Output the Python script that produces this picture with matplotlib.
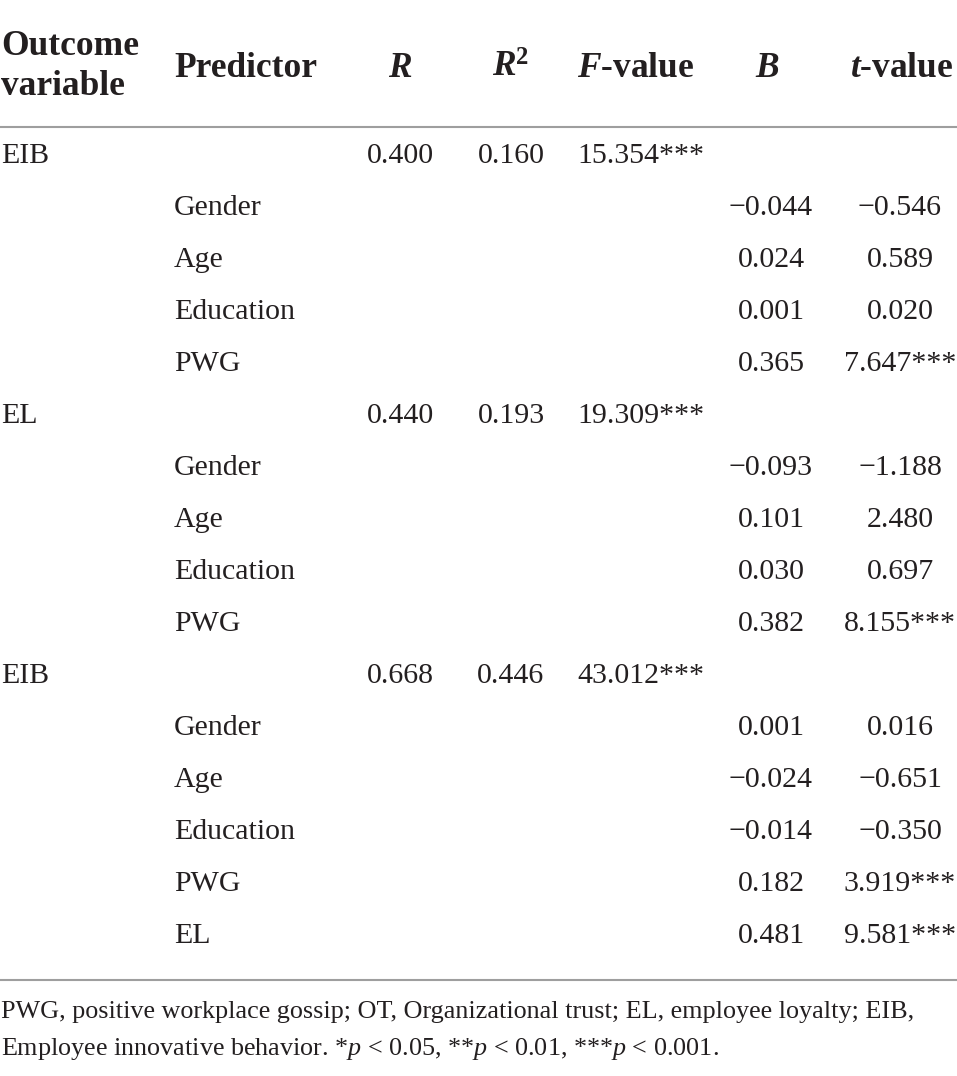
import matplotlib
matplotlib.use("Agg")
import matplotlib.pyplot as plt

# ---------------- data ----------------
outcomes = ["EIB", "EL", "EIB"]
R_vals = [0.400, 0.440, 0.668]
R2_vals = [0.160, 0.193, 0.446]
F_vals = [15.354, 19.309, 43.012]
F_sig = ["***", "***", "***"]

predictors = [
    ["Gender", "Age", "Education", "PWG"],
    ["Gender", "Age", "Education", "PWG"],
    ["Gender", "Age", "Education", "PWG", "EL"],
]
B_vals = [
    [-0.044, 0.024, 0.001, 0.365],
    [-0.093, 0.101, 0.030, 0.382],
    [0.001, -0.024, -0.014, 0.182, 0.481],
]
t_vals = [
    [-0.546, 0.589, 0.020, 7.647],
    [-1.188, 2.480, 0.697, 8.155],
    [0.016, -0.651, -0.350, 3.919, 9.581],
]
t_sig = [
    ["", "", "", "***"],
    ["", "", "", "***"],
    ["", "", "", "***", "***"],
]

footnote_lines = [
    "PWG, positive workplace gossip; OT, Organizational trust; EL, employee loyalty; EIB,",
    r"Employee innovative behavior. *$p$ < 0.05, **$p$ < 0.01, ***$p$ < 0.001.",
]

# ---------------- style ----------------
FONT = "Liberation Serif"
plt.rcParams["font.family"] = [FONT, "DejaVu Serif"]
plt.rcParams["mathtext.fontset"] = "custom"
plt.rcParams["mathtext.rm"] = FONT
plt.rcParams["mathtext.it"] = FONT + ":italic"
plt.rcParams["mathtext.bf"] = FONT + ":bold"
plt.rcParams["mathtext.bfit"] = FONT + ":bold:italic"

TXT = "#231f20"
LINE = "#9e9e9e"
BODY = 21.5
HEAD = 25.5
FOOT = 18.8

W, H = 957, 1076
fig = plt.figure(figsize=(W / 100, H / 100), dpi=100)
ax = fig.add_axes([0, 0, 1, 1])
ax.set_xlim(0, W)
ax.set_ylim(H, 0)
ax.axis("off")

# column anchors
x_out = 1
x_pred = 174
x_R = 400
x_R2 = 511
x_F = 577
x_B = 771
x_t = 900


def fmt(v):
    return f"{v:.3f}".replace("-", "\u2212")


# ---------------- header ----------------
hb = 77
ax.text(x_out, 55, "Outcome", fontsize=HEAD, fontweight="bold", color=TXT,
        ha="left", va="baseline")
ax.text(x_out, 95, "variable", fontsize=HEAD, fontweight="bold", color=TXT,
        ha="left", va="baseline")
ax.text(x_pred, hb, "Predictor", fontsize=HEAD, fontweight="bold", color=TXT,
        ha="left", va="baseline")
ax.text(x_R, hb, r"$\mathbfit{R}$", fontsize=HEAD, color=TXT, ha="center", va="baseline")
ax.text(x_R2, hb, r"$\mathbfit{R}^{\mathbf{2}}$", fontsize=HEAD, color=TXT,
        ha="center", va="baseline")
ax.text(x_F, hb, r"$\mathbfit{F}$-value", fontsize=HEAD, fontweight="bold", color=TXT,
        ha="left", va="baseline")
ax.text(767, hb, r"$\mathbfit{B}$", fontsize=HEAD, color=TXT, ha="center", va="baseline")
ax.text(902, hb, r"$\mathbfit{t}$-value", fontsize=HEAD, fontweight="bold", color=TXT,
        ha="center", va="baseline")

ax.plot([0, W], [127, 127], color=LINE, lw=1.5, solid_capstyle="butt")

# ---------------- body ----------------
y0 = 163
step = 52
row = 0
for bi, outc in enumerate(outcomes):
    y = y0 + row * step
    ax.text(x_out, y, outc, fontsize=BODY, color=TXT, ha="left", va="baseline")
    ax.text(x_R, y, fmt(R_vals[bi]), fontsize=BODY, color=TXT, ha="center", va="baseline")
    ax.text(x_R2, y, fmt(R2_vals[bi]), fontsize=BODY, color=TXT, ha="center", va="baseline")
    ax.text(x_F, y, fmt(F_vals[bi]) + F_sig[bi], fontsize=BODY, color=TXT,
            ha="left", va="baseline")
    row += 1
    for pi, pred in enumerate(predictors[bi]):
        y = y0 + row * step
        ax.text(x_pred, y, pred, fontsize=BODY, color=TXT, ha="left", va="baseline")
        ax.text(x_B, y, fmt(B_vals[bi][pi]), fontsize=BODY, color=TXT,
                ha="center", va="baseline")
        ax.text(x_t, y, fmt(t_vals[bi][pi]) + t_sig[bi][pi], fontsize=BODY, color=TXT,
                ha="center", va="baseline")
        row += 1

ax.plot([0, W], [980, 980], color=LINE, lw=1.5, solid_capstyle="butt")

# ---------------- footnote ----------------
ax.text(x_out, 1018, footnote_lines[0], fontsize=FOOT, color=TXT, ha="left", va="baseline")
ax.text(x_out, 1055, footnote_lines[1], fontsize=FOOT, color=TXT, ha="left", va="baseline")

fig.savefig("out.png", dpi=100, facecolor="white")
